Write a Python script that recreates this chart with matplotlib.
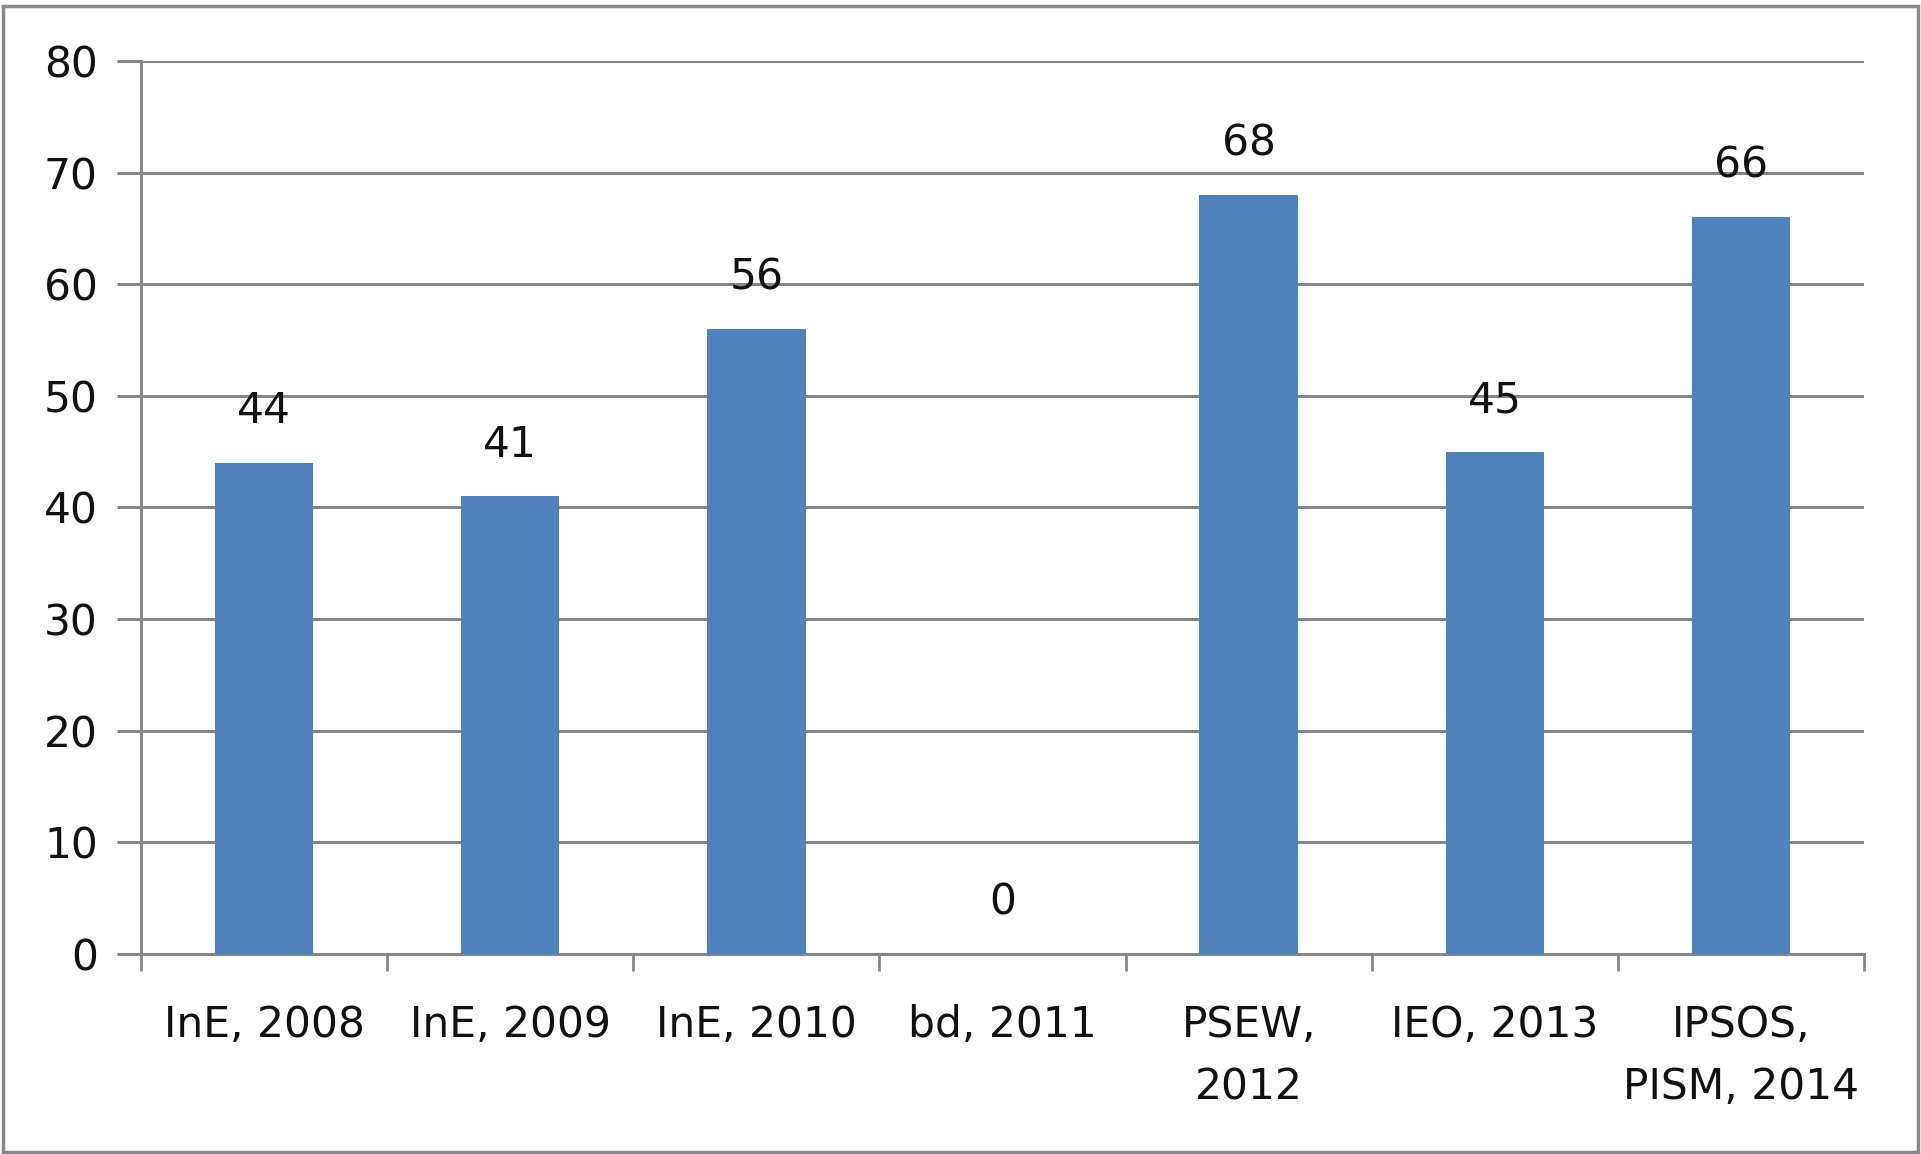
import matplotlib
matplotlib.use("Agg")
import matplotlib.pyplot as plt
from matplotlib.patches import Rectangle
import numpy as np

categories = ["InE, 2008", "InE, 2009", "InE, 2010", "bd, 2011", "PSEW,\n2012", "IEO, 2013", "IPSOS,\nPISM, 2014"]
values = [44, 41, 56, 0, 68, 45, 66]
yticks = [0, 10, 20, 30, 40, 50, 60, 70, 80]

plt.rcParams['font.family'] = ['DejaVu Sans']

W, H = 1921, 1154
fig = plt.figure(figsize=(W / 100, H / 100), dpi=100)
fig.patch.set_facecolor("white")

ax = fig.add_axes([141 / W, 200 / H, (1864 - 141) / W, (954 - 61) / H])
grid_c = "#868686"
txt_c = "#111111"
fs = 30.5
x = np.arange(len(categories))
ax.bar(x, values, width=0.4, color="#4F81BD", zorder=3)
ax.set_xlim(-0.5, len(categories) - 0.5)
ax.set_ylim(0, 80)
ax.set_yticks(yticks)
ax.set_yticklabels([str(v) for v in yticks], fontsize=fs, color=txt_c)
for y in yticks[1:]:
    ax.axhline(y, color=grid_c, lw=2.2, zorder=1)

ax.set_xticks(x)
ax.set_xticklabels(categories, fontsize=fs, color=txt_c, linespacing=1.62)
ax.tick_params(axis="x", which="major", length=0, pad=36)
ax.set_xticks(np.arange(-0.5, len(categories), 1.0), minor=True)
ax.tick_params(axis="x", which="minor", length=12, width=2, color=grid_c)
ax.tick_params(axis="y", length=17, width=2.2, color=grid_c, pad=14)

for s in ["top", "right"]:
    ax.spines[s].set_visible(False)
for s in ["left", "bottom"]:
    ax.spines[s].set_color(grid_c)
    ax.spines[s].set_linewidth(2.2)

for xi, v in zip(x, values):
    ax.annotate(str(v), (xi, v), xytext=(0, 37), textcoords="offset points",
                ha="center", va="center", fontsize=fs, color=txt_c, zorder=4)

# outer frame
fig.patches.append(Rectangle((3 / W, 2 / H), (W - 6) / W, (H - 8) / H, transform=fig.transFigure,
                             fill=False, edgecolor="#888888", lw=2.5))

fig.savefig("out.png", dpi=100)
